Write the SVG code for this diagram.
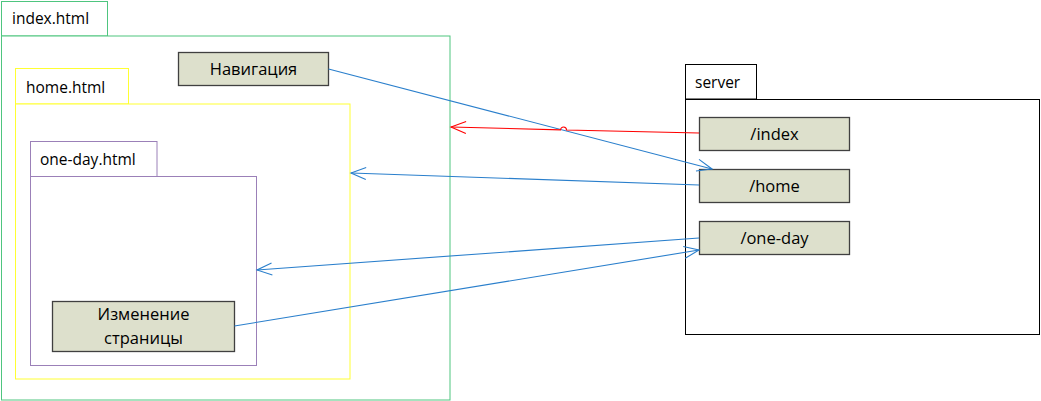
<svg xmlns="http://www.w3.org/2000/svg" width="1041" height="401" viewBox="0 0 1041 401">
<defs>
<style>
text{font-family:"Open Sans","Liberation Sans",sans-serif;fill:#000}
.tab{font-size:15.5px}
.lbl{font-size:16.5px;text-anchor:middle}
.box{fill:#dde0cc;stroke:#404040;stroke-width:1.3}
.blue{stroke:#2a7fcc;stroke-width:1.1;fill:none}
.red{stroke:#ff0000;stroke-width:1.1;fill:none}
</style>
<marker id="ab" markerUnits="userSpaceOnUse" viewBox="-16 -8 18 16" refX="0" refY="0" markerWidth="18" markerHeight="16" orient="auto">
<path d="M-15,-6 L0,0 L-15,6" fill="none" stroke="#2a7fcc" stroke-width="1.1"/>
</marker>
<marker id="ar" markerUnits="userSpaceOnUse" viewBox="-16 -8 18 16" refX="0" refY="0" markerWidth="18" markerHeight="16" orient="auto">
<path d="M-15,-6 L0,0 L-15,6" fill="none" stroke="#ff0000" stroke-width="1.1"/>
</marker>
</defs>
<rect width="1041" height="401" fill="#fff"/>
<g id="index-html" fill="#fff" stroke="#4ec57f">
<rect x="1.5" y="1.5" width="106" height="34.5"/>
<rect x="1.5" y="36" width="448.5" height="364"/>
<text class="tab" x="12" y="24" stroke="none">index.html</text>
</g>
<g id="home-html" fill="#fff" stroke="#ffff33">
<rect x="15.5" y="68.5" width="113" height="35.5"/>
<rect x="15.5" y="104" width="334.5" height="275"/>
<text class="tab" x="26" y="93" stroke="none">home.html</text>
</g>
<g id="one-day-html" fill="#fff" stroke="#9b80b8">
<rect x="30.5" y="141.5" width="126.5" height="35"/>
<rect x="30.5" y="176.5" width="226" height="189"/>
<text class="tab" x="40" y="165" stroke="none">one-day.html</text>
</g>
<g id="navigation">
<rect class="box" x="178.5" y="52.5" width="150" height="33"/>
<text class="lbl" x="253.5" y="75">Навигация</text>
</g>
<g id="change-page">
<rect class="box" x="52.5" y="301.5" width="182" height="50"/>
<text class="lbl" x="143.5" y="320">Изменение</text>
<text class="lbl" x="143.5" y="344">страницы</text>
</g>
<g id="server" fill="#fff" stroke="#000">
<rect x="685.5" y="64.5" width="71" height="34.5"/>
<rect x="685.5" y="99.5" width="354" height="235"/>
<text class="tab" x="695" y="88" stroke="none">server</text>
</g>
<g id="route-index">
<rect class="box" x="699.5" y="117.5" width="150" height="33"/>
<text class="lbl" x="774.5" y="140">/index</text>
</g>
<g id="route-home">
<rect class="box" x="699.5" y="169.5" width="150" height="33"/>
<text class="lbl" x="774.5" y="192">/home</text>
</g>
<g id="route-one-day">
<rect class="box" x="699.5" y="221.5" width="150" height="33"/>
<text class="lbl" x="774.5" y="244">/one-day</text>
</g>
<g id="connectors">
<path class="blue" d="M328.5,69 L712,169" marker-end="url(#ab)"/>
<path class="red" d="M699,133 L566.5,130 A3,3 0 0 0 560.5,129.9 L451,127" marker-end="url(#ar)"/>
<path class="blue" d="M699,185 L351,173" marker-end="url(#ab)"/>
<path class="blue" d="M699,238 L257,270" marker-end="url(#ab)"/>
<path class="blue" d="M234.5,326 L699,250" marker-end="url(#ab)"/>
</g>
</svg>
